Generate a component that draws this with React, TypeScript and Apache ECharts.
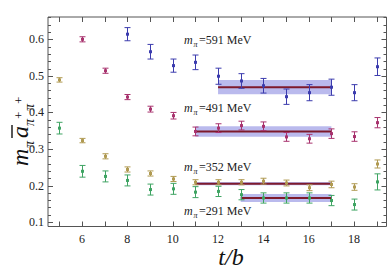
import React, { useEffect, useRef } from "react";
import * as echarts from "echarts";

// ---- data ----
const blueT = [8, 9, 10, 11, 12, 13, 14, 15, 16, 17, 18, 19];
const blueV = [0.614, 0.566, 0.528, 0.537, 0.499, 0.486, 0.473, 0.443, 0.454, 0.469, 0.454, 0.525];
const blueE = [0.018, 0.02, 0.018, 0.02, 0.022, 0.02, 0.02, 0.021, 0.022, 0.022, 0.022, 0.024];

const magT = [6, 7, 8, 9, 10, 11, 12, 13, 14, 15, 16, 17, 18, 19];
const magV = [0.6, 0.514, 0.442, 0.409, 0.391, 0.348, 0.357, 0.364, 0.362, 0.333, 0.328, 0.342, 0.334, 0.372];
const magE = [0.007, 0.007, 0.007, 0.008, 0.009, 0.012, 0.012, 0.012, 0.012, 0.012, 0.012, 0.013, 0.013, 0.014];

const goldT = [5, 6, 7, 8, 9, 10, 11, 12, 13, 14, 15, 16, 17, 18, 19];
const goldV = [0.489, 0.323, 0.28, 0.244, 0.233, 0.218, 0.209, 0.209, 0.209, 0.212, 0.207, 0.194, 0.203, 0.196, 0.259];
const goldE = [0.006, 0.006, 0.007, 0.007, 0.007, 0.007, 0.007, 0.007, 0.007, 0.008, 0.008, 0.008, 0.009, 0.009, 0.011];

const greenT = [5, 6, 7, 8, 9, 10, 11, 12, 13, 14, 15, 16, 17, 18, 19];
const greenV = [0.357, 0.239, 0.225, 0.214, 0.189, 0.191, 0.182, 0.184, 0.175, 0.166, 0.166, 0.166, 0.159, 0.148, 0.21];
const greenE = [0.016, 0.016, 0.015, 0.015, 0.015, 0.015, 0.015, 0.014, 0.014, 0.014, 0.014, 0.014, 0.014, 0.015, 0.022];

const bandStart = [12, 11, 11, 13];
const bandEnd = [17, 17, 17, 17];
const bandValue = [0.469, 0.348, 0.205, 0.166];
const bandErr = [0.0195, 0.0145, 0.0045, 0.011];

const xTickLabels = [6, 8, 10, 12, 14, 16, 18];
const yTickLabels = [0.1, 0.2, 0.3, 0.4, 0.5, 0.6];

const massLabels = ["591", "491", "352", "291"];

const X_MIN = 4.5;
const X_MAX = 19.43;
const Y_MIN = 0.088;
const Y_MAX = 0.661;

const COLORS = ["#3c3cae", "#a8336e", "#b09a52", "#3fa463"];

function errSeries(ts: number[], vs: number[], es: number[], color: string) {
  return {
    type: "custom",
    data: ts.map((t, i) => [t, vs[i], es[i]]),
    renderItem: (params: any, api: any) => {
      const t = api.value(0);
      const v = api.value(1);
      const e = api.value(2);
      const p = api.coord([t, v]);
      const top = api.coord([t, v + e]);
      const bot = api.coord([t, v - e]);
      const x = Math.round(p[0]) + 0.5;
      const cw = 3;
      return {
        type: "group",
        children: [
          { type: "line", shape: { x1: x, y1: top[1], x2: x, y2: bot[1] }, style: { stroke: color, lineWidth: 1 } },
          { type: "line", shape: { x1: x - cw, y1: top[1], x2: x + cw, y2: top[1] }, style: { stroke: color, lineWidth: 1 } },
          { type: "line", shape: { x1: x - cw, y1: bot[1], x2: x + cw, y2: bot[1] }, style: { stroke: color, lineWidth: 1 } },
          { type: "rect", shape: { x: x - 1.5, y: p[1] - 1.5, width: 3, height: 3 }, style: { fill: color } },
        ],
      };
    },
    z: 5,
  };
}

export default function App() {
  const ref = useRef<HTMLDivElement>(null);
  useEffect(() => {
    document.body.style.margin = "0";
    const chart = echarts.init(ref.current!, null, { renderer: "svg" });
    const serif = "'Liberation Serif', 'DejaVu Serif', serif";

    const bandSeries = {
      type: "custom",
      data: bandStart.map((s, i) => [s, bandEnd[i], bandValue[i], bandErr[i]]),
      renderItem: (params: any, api: any) => {
        const s = api.value(0);
        const en = api.value(1);
        const v = api.value(2);
        const e = api.value(3);
        const a = api.coord([s, v + e]);
        const b = api.coord([en, v - e]);
        const l0 = api.coord([s, v]);
        const l1 = api.coord([en, v]);
        return {
          type: "group",
          children: [
            {
              type: "rect",
              shape: { x: a[0], y: a[1], width: b[0] - a[0], height: Math.max(b[1] - a[1], 1) },
              style: { fill: "rgba(140,140,225,0.6)" },
            },
            {
              type: "line",
              shape: { x1: l0[0], y1: l0[1], x2: l1[0], y2: l1[1] },
              style: { stroke: "#7e1a2c", lineWidth: 2 },
            },
          ],
        };
      },
      z: 3,
    };

    const frameSeries = {
      type: "custom",
      data: [[0]],
      renderItem: (params: any, api: any) => {
        const children: any[] = [];
        const tl = api.coord([X_MIN, Y_MAX]);
        const br = api.coord([X_MAX, Y_MIN]);
        const stroke = "#555";
        children.push({
          type: "rect",
          shape: { x: tl[0], y: tl[1], width: br[0] - tl[0], height: br[1] - tl[1] },
          style: { fill: "none", stroke, lineWidth: 1 },
        });
        for (let t = 5; t <= 19; t++) {
          const p = api.coord([t, Y_MIN]);
          const x = Math.round(p[0]) + 0.5;
          children.push({ type: "line", shape: { x1: x, y1: br[1], x2: x, y2: br[1] - 5 }, style: { stroke, lineWidth: 1 } });
          children.push({ type: "line", shape: { x1: x, y1: tl[1], x2: x, y2: tl[1] + 5 }, style: { stroke, lineWidth: 1 } });
        }
        for (let k = 5; k <= 33; k++) {
          const v = k * 0.02;
          const p = api.coord([X_MIN, v]);
          const y = Math.round(p[1]) + 0.5;
          const major = k % 5 === 0;
          const len = major ? 5 : 3;
          children.push({ type: "line", shape: { x1: tl[0], y1: y, x2: tl[0] + len, y2: y }, style: { stroke, lineWidth: 1 } });
          children.push({ type: "line", shape: { x1: br[0], y1: y, x2: br[0] - len, y2: y }, style: { stroke, lineWidth: 1 } });
        }
        xTickLabels.forEach((t) => {
          const p = api.coord([t, Y_MIN]);
          children.push({
            type: "text",
            x: p[0],
            y: br[1] + 6,
            style: { text: String(t), fill: "#222", font: `12px ${serif}`, align: "center", verticalAlign: "top" },
          });
        });
        yTickLabels.forEach((v) => {
          const p = api.coord([X_MIN, v]);
          children.push({
            type: "text",
            x: tl[0] - 4,
            y: p[1],
            style: { text: v.toFixed(1), fill: "#222", font: `12px ${serif}`, align: "right", verticalAlign: "middle" },
          });
        });
        return { type: "group", children };
      },
      z: 10,
      silent: true,
    };

    const labelY = [40, 108, 167, 211];
    const massGraphics = massLabels.map((m, i) => ({
      type: "group",
      x: 184,
      y: labelY[i],
      children: [
        { type: "text", x: 0, y: 0, style: { text: "m", font: `italic 12px ${serif}`, fill: "#222", verticalAlign: "middle" } },
        { type: "text", x: 9.5, y: 4, style: { text: "π", font: `italic 8px ${serif}`, fill: "#222", verticalAlign: "middle" } },
        { type: "text", x: 15, y: 0, style: { text: `=${m} MeV`, font: `12px ${serif}`, fill: "#222", verticalAlign: "middle" } },
      ],
    }));

    // local coords: x along reading direction, y downward (visual right after rotation)
    const big = `italic 24px ${serif}`;
    const sub = `italic 14px ${serif}`;
    const sup = `13px ${serif}`;
    const yTitle = {
      type: "group",
      x: 32,
      y: 166,
      rotation: Math.PI / 2,
      children: [
        { type: "text", x: 0, y: 0, style: { text: "m", font: big, fill: "#111", verticalAlign: "bottom" } },
        { type: "text", x: 18, y: 4, style: { text: "π", font: sub, fill: "#111", verticalAlign: "bottom" } },
        { type: "text", x: 28, y: 0, style: { text: "a", font: big, fill: "#111", verticalAlign: "bottom" } },
        { type: "line", shape: { x1: 28, y1: -20, x2: 41, y2: -20 }, style: { stroke: "#111", lineWidth: 1.4 } },
        { type: "text", x: 40, y: 4, style: { text: "π", font: sub, fill: "#111", verticalAlign: "bottom" } },
        { type: "text", x: 47, y: -7, style: { text: "+", font: sup, fill: "#111", verticalAlign: "bottom" } },
        { type: "text", x: 55, y: 4, style: { text: "π", font: sub, fill: "#111", verticalAlign: "bottom" } },
        { type: "text", x: 62, y: -7, style: { text: "+", font: sup, fill: "#111", verticalAlign: "bottom" } },
      ],
    };

    const xTitle = {
      type: "text",
      x: 231,
      y: 257,
      style: { text: "t/b", font: `italic 24px ${serif}`, fill: "#111", align: "center", verticalAlign: "middle" },
    };

    chart.setOption({
      animation: false,
      backgroundColor: "#fff",
      grid: { left: 48, top: 17, right: 1.5, bottom: 48.5, containLabel: false },
      xAxis: {
        type: "value",
        min: X_MIN,
        max: X_MAX,
        axisLine: { show: false },
        axisTick: { show: false },
        axisLabel: { show: false },
        splitLine: { show: false },
      },
      yAxis: {
        type: "value",
        min: Y_MIN,
        max: Y_MAX,
        axisLine: { show: false },
        axisTick: { show: false },
        axisLabel: { show: false },
        splitLine: { show: false },
      },
      graphic: [...massGraphics, yTitle, xTitle],
      series: [
        bandSeries,
        errSeries(blueT, blueV, blueE, COLORS[0]),
        errSeries(magT, magV, magE, COLORS[1]),
        errSeries(goldT, goldV, goldE, COLORS[2]),
        errSeries(greenT, greenV, greenE, COLORS[3]),
        frameSeries,
      ],
    });
    return () => chart.dispose();
  }, []);
  return <div ref={ref} style={{ width: 388, height: 275 }} />;
}
